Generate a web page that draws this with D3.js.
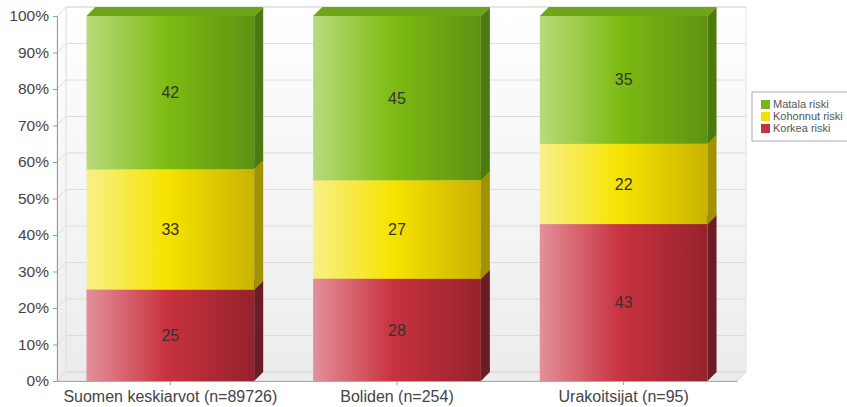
<!DOCTYPE html>
<html>
<head>
<meta charset="utf-8">
<script src="https://cdn.jsdelivr.net/npm/d3@7"></script>
<style>
  body { margin: 0; background: #fff; }
  text { font-family: "Liberation Sans", Arial, sans-serif; }
</style>
</head>
<body>
<div id="chart"></div>
<script>
// data
const categories = ["Suomen keskiarvot (n=89726)", "Boliden (n=254)", "Urakoitsijat (n=95)"];
const seriesNames = ["Korkea riski", "Kohonnut riski", "Matala riski"];
const korkea = [25, 28, 43];
const kohonnut = [33, 27, 22];
const matala = [42, 45, 35];
const yTicks = [0, 10, 20, 30, 40, 50, 60, 70, 80, 90, 100];

const width = 847, height = 407;
const dx = 9, dy = -9; // 3d depth

const svg = d3.select("#chart").append("svg")
    .attr("width", width)
    .attr("height", height);

const x = d3.scaleBand()
    .domain(categories)
    .range([57, 737])
    .paddingInner(0.26)
    .paddingOuter(0.13);

const y = d3.scaleLinear()
    .domain([0, 100])
    .range([381, 16]);

const colors = {
    "Matala riski": { stops: ["#b8db7c", "#7dbb12", "#5e9212"], side: "#4d7a10", top: "#6ea617", key: "#7ab51a" },
    "Kohonnut riski": { stops: ["#f8f089", "#f6e300", "#c9b300"], side: "#a09200", top: "#d9c800", key: "#f2e000" },
    "Korkea riski": { stops: ["#e3909a", "#c8323f", "#96222c"], side: "#6b1c24", top: "#a8303a", key: "#c8323f" }
};

const defs = svg.append("defs");
seriesNames.forEach((s, i) => {
    const g = defs.append("linearGradient").attr("id", "grad" + i)
        .attr("x1", "0%").attr("x2", "100%").attr("y1", "0%").attr("y2", "0%");
    g.append("stop").attr("offset", "0%").attr("stop-color", colors[s].stops[0]);
    g.append("stop").attr("offset", "48%").attr("stop-color", colors[s].stops[1]);
    g.append("stop").attr("offset", "100%").attr("stop-color", colors[s].stops[2]);
});
const wall = defs.append("linearGradient").attr("id", "wall")
    .attr("x1", "0%").attr("x2", "0%").attr("y1", "0%").attr("y2", "100%");
wall.append("stop").attr("offset", "0%").attr("stop-color", "#ffffff");
wall.append("stop").attr("offset", "100%").attr("stop-color", "#ececec");

const x0 = x.range()[0], x1 = x.range()[1];
const y0 = y(0), yTop = y(100);
const pts = p => p.map(d => d.join(",")).join(" ");

// back wall
svg.append("polygon")
    .attr("points", pts([[x0 + dx, yTop + dy], [x1 + dx, yTop + dy], [x1 + dx, y0 + dy], [x0 + dx, y0 + dy]]))
    .attr("fill", "url(#wall)")
    .attr("stroke", "#e2e2e2");
// left wall
svg.append("polygon")
    .attr("points", pts([[x0, yTop], [x0 + dx, yTop + dy], [x0 + dx, y0 + dy], [x0, y0]]))
    .attr("fill", "url(#wall)")
    .attr("stroke", "#e2e2e2");
// floor
svg.append("polygon")
    .attr("points", pts([[x0, y0], [x0 + dx, y0 + dy], [x1 + dx, y0 + dy], [x1, y0]]))
    .attr("fill", "#ececec")
    .attr("stroke", "#d8d8d8");

// gridlines
const grid = svg.append("g").attr("stroke", "#dcdcdc").attr("fill", "none");
yTicks.forEach(t => {
    grid.append("line")
        .attr("x1", x0 + dx).attr("x2", x1 + dx)
        .attr("y1", y(t) + dy).attr("y2", y(t) + dy);
    grid.append("line")
        .attr("x1", x0).attr("x2", x0 + dx)
        .attr("y1", y(t)).attr("y2", y(t) + dy);
});

// axes
const yAxis = svg.append("g")
    .attr("transform", `translate(${x0},0)`)
    .call(d3.axisLeft(y).tickValues(yTicks).tickSize(4).tickFormat(d => d + "%"));
yAxis.select(".domain").attr("stroke", "#999");
yAxis.selectAll(".tick line").attr("stroke", "#999");
yAxis.selectAll("text").attr("font-size", "15.5px").attr("fill", "#444").attr("dx", "-1");

const xAxis = svg.append("g")
    .attr("transform", `translate(0,${y0})`)
    .call(d3.axisBottom(x).tickSize(4).tickSizeOuter(0));
xAxis.select(".domain").attr("stroke", "#aaa");
xAxis.selectAll(".tick line").attr("stroke", "#999");
xAxis.selectAll("text").attr("font-size", "16px").attr("fill", "#444").attr("dy", "0.85em");

// stacked bars
const rows = categories.map((c, i) => ({
    cat: c,
    "Korkea riski": korkea[i],
    "Kohonnut riski": kohonnut[i],
    "Matala riski": matala[i]
}));
const stack = d3.stack().keys(seriesNames)(rows);

stack.forEach((layer, si) => {
    const s = layer.key;
    const g = svg.append("g");
    layer.forEach(d => {
        const bx0 = x(d.data.cat), bx1 = bx0 + x.bandwidth();
        const ya = y(d[0]), yb = y(d[1]);
        g.append("rect")
            .attr("x", bx0).attr("y", yb)
            .attr("width", x.bandwidth()).attr("height", ya - yb)
            .attr("fill", `url(#grad${si})`);
        g.append("polygon")
            .attr("points", pts([[bx1, yb], [bx1 + dx, yb + dy], [bx1 + dx, ya + dy], [bx1, ya]]))
            .attr("fill", colors[s].side);
        g.append("polygon")
            .attr("points", pts([[bx0, yb], [bx0 + dx, yb + dy], [bx1 + dx, yb + dy], [bx1, yb]]))
            .attr("fill", colors[s].top);
        g.append("text")
            .attr("x", (bx0 + bx1) / 2)
            .attr("y", (ya + yb) / 2)
            .attr("dy", "0.35em")
            .attr("text-anchor", "middle")
            .attr("font-size", "16px")
            .attr("fill", "#333")
            .text(d[1] - d[0]);
    });
});

// legend
const legend = svg.append("g").attr("transform", "translate(752,92)");
legend.append("rect")
    .attr("width", 110).attr("height", 49)
    .attr("fill", "#fff").attr("stroke", "#aaa");
seriesNames.slice().reverse().forEach((s, i) => {
    legend.append("rect")
        .attr("x", 9).attr("y", 8 + i * 12)
        .attr("width", 9).attr("height", 9)
        .attr("fill", colors[s].key);
    legend.append("text")
        .attr("x", 21).attr("y", 12.5 + i * 12)
        .attr("dy", "0.35em")
        .attr("font-size", "11px")
        .attr("fill", "#555")
        .text(s);
});
</script>
</body>
</html>
